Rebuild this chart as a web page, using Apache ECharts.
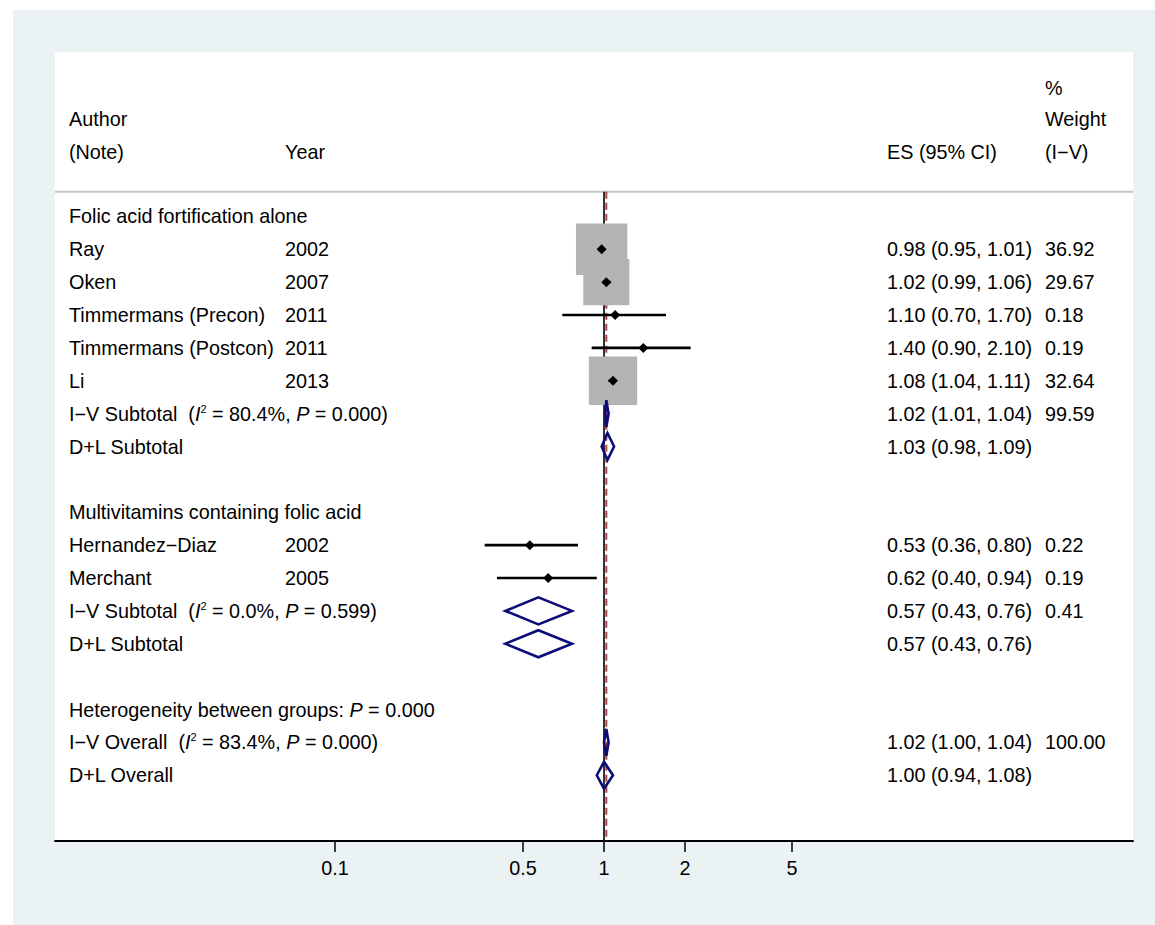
<!DOCTYPE html>
<html>
<head>
<meta charset="utf-8">
<script src="https://cdn.jsdelivr.net/npm/echarts@6/dist/echarts.min.js"></script>
<style>
html,body{margin:0;padding:0;background:#ffffff;width:1155px;height:925px;overflow:hidden;}
#chart{position:absolute;left:13px;top:10px;width:1142px;height:915px;}
</style>
</head>
<body>
<div id="chart"></div>
<script>
// ---------------- DATA ----------------
const headerTexts = ['%', 'Author', 'Weight', '(Note)', 'Year', 'ES (95% CI)', '(I\u2212V)'];
const headerRows  = [-3.9, -2.96, -2.96, -1.96, -1.96, -1.96, -1.96];
const headerCols  = ['wt', 'name', 'wt', 'name', 'year', 'es', 'wt'];

const groupHeaders = ['Folic acid fortification alone', 'Multivitamins containing folic acid', 'Heterogeneity between groups: '];
const groupRows = [0, 9, 15];
const heterogeneityP = '0.000';

const studyNames  = ['Ray', 'Oken', 'Timmermans (Precon)', 'Timmermans (Postcon)', 'Li', 'Hernandez\u2212Diaz', 'Merchant'];
const studyYears  = ['2002', '2007', '2011', '2011', '2013', '2002', '2005'];
const studyES     = [0.98, 1.02, 1.10, 1.40, 1.08, 0.53, 0.62];
const studyLCI    = [0.95, 0.99, 0.70, 0.90, 1.04, 0.36, 0.40];
const studyUCI    = [1.01, 1.06, 1.70, 2.10, 1.11, 0.80, 0.94];
const studyWeight = [36.92, 29.67, 0.18, 0.19, 32.64, 0.22, 0.19];
const studyRows   = [1, 2, 3, 4, 5, 10, 11];

const pooledNames  = ['I\u2212V Subtotal', 'D+L Subtotal', 'I\u2212V Subtotal', 'D+L Subtotal', 'I\u2212V Overall', 'D+L Overall'];
const pooledI2     = ['80.4%', '', '0.0%', '', '83.4%', ''];
const pooledP      = ['0.000', '', '0.599', '', '0.000', ''];
const pooledES     = [1.02, 1.03, 0.57, 0.57, 1.02, 1.00];
const pooledLCI    = [1.01, 0.98, 0.43, 0.43, 1.00, 0.94];
const pooledUCI    = [1.04, 1.09, 0.76, 0.76, 1.04, 1.08];
const pooledWeight = ['99.59', '', '0.41', '', '100.00', ''];
const pooledRows   = [6, 7, 12, 13, 16, 17];

const tickValues = [0.1, 0.5, 1, 2, 5];
const nullValue = 1;
const overallIndex = 4; // I-V overall estimate drawn as dashed line

// ---------------- LAYOUT / STYLE ----------------
const X_MIN = -2.0409, X_MAX = 1.9665;   // log10 range spanning the panel
const Y_MIN = -5, Y_MAX = 19;
const SEP_ROW = -0.75;
const FONT = "'Liberation Sans', Arial, Helvetica, sans-serif";
const FS = 19.8;
const colX = { name: 56, year: 272, es: 874, wt: 1032 };
const L = v => Math.log10(v);
const f2 = v => v.toFixed(2);
const esText = (e, l, u) => f2(e) + ' (' + f2(l) + ', ' + f2(u) + ')';

// build text items
const texts = [];
headerTexts.forEach((t, i) => texts.push({ t, row: headerRows[i], col: headerCols[i] }));
groupHeaders.forEach((t, i) => {
  const txt = (i === 2) ? t + '{it|P} = ' + heterogeneityP : t;
  texts.push({ t: txt, row: groupRows[i], col: 'name' });
});
studyNames.forEach((t, i) => {
  const r = studyRows[i];
  texts.push({ t, row: r, col: 'name' });
  texts.push({ t: studyYears[i], row: r, col: 'year' });
  texts.push({ t: esText(studyES[i], studyLCI[i], studyUCI[i]), row: r, col: 'es' });
  texts.push({ t: f2(studyWeight[i]), row: r, col: 'wt' });
});
pooledNames.forEach((t, i) => {
  const r = pooledRows[i];
  const lab = pooledI2[i] ? t + '  ({it|I}{sup|2} = ' + pooledI2[i] + ', {it|P} = ' + pooledP[i] + ')' : t;
  texts.push({ t: lab, row: r, col: 'name' });
  texts.push({ t: esText(pooledES[i], pooledLCI[i], pooledUCI[i]), row: r, col: 'es' });
  if (pooledWeight[i]) texts.push({ t: pooledWeight[i], row: r, col: 'wt' });
});

const chart = echarts.init(document.getElementById('chart'), null, { renderer: 'svg' });

const option = {
  backgroundColor: '#eaf2f3',
  animation: false,
  grid: { left: 42, top: 42, right: 22, bottom: 84, show: true, backgroundColor: '#ffffff', borderWidth: 0 },
  xAxis: {
    type: 'value', min: X_MIN, max: X_MAX,
    splitLine: { show: false },
    axisLine: { show: true, onZero: false, lineStyle: { color: '#000', width: 2 } },
    axisTick: { show: true, customValues: tickValues.map(L), length: 11, lineStyle: { color: '#000', width: 1.5 } },
    axisLabel: {
      show: true, customValues: tickValues.map(L), margin: 17,
      color: '#000', fontSize: FS, fontFamily: FONT,
      formatter: v => String(+Math.pow(10, v).toPrecision(6))
    }
  },
  yAxis: { type: 'value', min: Y_MIN, max: Y_MAX, inverse: true, show: false, splitLine: { show: false } },
  series: [
    { // header separator
      type: 'line', symbol: 'none', silent: true, z: 1,
      data: [[X_MIN, SEP_ROW], [X_MAX, SEP_ROW]],
      lineStyle: { color: '#c3c3c3', width: 2 }
    },
    { // null line
      type: 'line', symbol: 'none', silent: true, z: 2,
      data: [[L(nullValue), SEP_ROW], [L(nullValue), Y_MAX]],
      lineStyle: { color: '#000', width: 1.6 }
    },
    { // overall estimate line
      type: 'line', symbol: 'none', silent: true, z: 2,
      data: [[L(pooledES[overallIndex]), SEP_ROW], [L(pooledES[overallIndex]), Y_MAX]],
      lineStyle: { color: '#a8464a', width: 2, type: [7, 4] }
    },
    { // weight boxes
      type: 'scatter', symbol: 'rect', z: 3, silent: true,
      data: studyES.map((e, i) => [L(e), studyRows[i], studyWeight[i]]),
      symbolSize: v => 8.45 * Math.sqrt(v[2]),
      itemStyle: { color: '#b4b4b4', opacity: 1 }
    },
    { // CI lines
      type: 'custom', z: 4, silent: true, clip: false,
      data: studyES.map((e, i) => [L(studyLCI[i]), L(studyUCI[i]), studyRows[i]]),
      renderItem: (params, api) => {
        const p1 = api.coord([api.value(0), api.value(2)]);
        const p2 = api.coord([api.value(1), api.value(2)]);
        return { type: 'line', shape: { x1: p1[0], y1: p1[1], x2: p2[0], y2: p2[1] },
                 style: { stroke: '#000', lineWidth: 2.6 } };
      }
    },
    { // point estimates
      type: 'scatter', symbol: 'diamond', symbolSize: [10, 10], z: 5, silent: true,
      data: studyES.map((e, i) => [L(e), studyRows[i]]),
      itemStyle: { color: '#000', opacity: 1 }
    },
    { // pooled diamonds
      type: 'custom', z: 6, silent: true, clip: false,
      data: pooledES.map((e, i) => [L(pooledLCI[i]), L(e), L(pooledUCI[i]), pooledRows[i]]),
      renderItem: (params, api) => {
        const r = api.value(3);
        const a = api.coord([api.value(0), r]);
        const t = api.coord([api.value(1), r - 0.41]);
        const b = api.coord([api.value(2), r]);
        const d = api.coord([api.value(1), r + 0.41]);
        return { type: 'polygon', shape: { points: [a, t, b, d] },
                 style: { fill: 'none', stroke: '#0c0c78', lineWidth: 2.6, lineJoin: 'miter' } };
      }
    },
    { // text columns
      type: 'custom', z: 7, silent: true, clip: false,
      coordinateSystem: 'cartesian2d',
      data: texts.map(it => [0, it.row]),
      renderItem: (params, api) => {
        const it = texts[params.dataIndex];
        const y = api.coord([0, api.value(1)])[1];
        return {
          type: 'text',
          style: {
            x: colX[it.col], y: y, text: it.t,
            fill: '#000', fontSize: FS, fontFamily: FONT,
            align: 'left', verticalAlign: 'middle',
            rich: {
              it: { fontStyle: 'italic', fontSize: FS, fontFamily: FONT, fill: '#000' },
              sup: { fontSize: 11, fontFamily: FONT, fill: '#000', verticalAlign: 'top', padding: [0, 0, 10, 0] }
            }
          }
        };
      }
    }
  ]
};
chart.setOption(option);
</script>
</body>
</html>
